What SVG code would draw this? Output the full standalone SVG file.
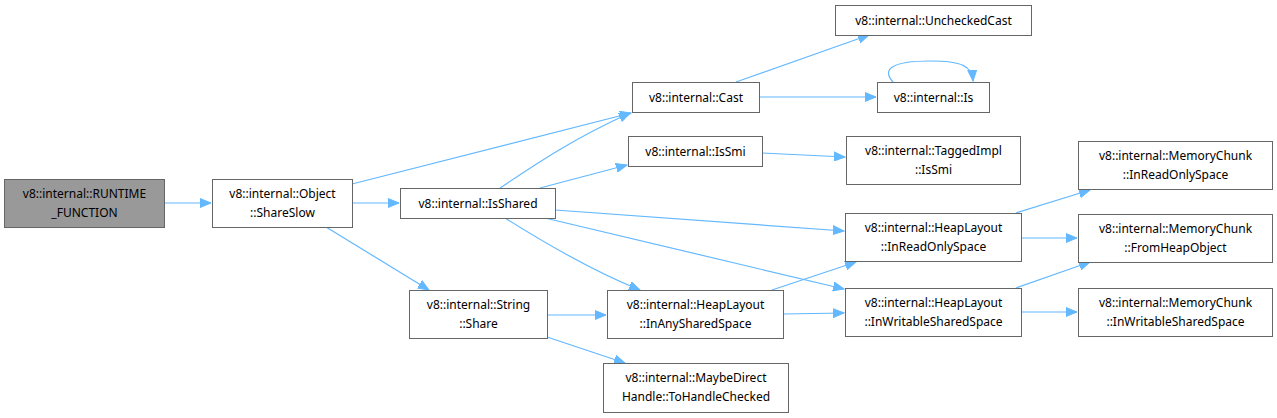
<svg xmlns="http://www.w3.org/2000/svg" width="1277" height="418" viewBox="0 0 1277 418">
<style>
.n rect{fill:#fff;stroke:#666;stroke-width:1}
.n.g rect{fill:#999}
text{font-family:"Noto Sans","Open Sans","DejaVu Sans",sans-serif;font-size:12px;fill:#000;text-anchor:middle}
.e path{fill:none;stroke:#63b8ff;stroke-width:1.2}
</style>
<defs>
<marker id="a" markerUnits="userSpaceOnUse" markerWidth="12" markerHeight="10" refX="11" refY="5" orient="auto">
<path d="M0,0.5 L11,5 L0,9.5 Z" fill="#63b8ff" stroke="#63b8ff"/>
</marker>
</defs>
<rect width="1277" height="418" fill="#fff"/>
<g class="e">
<path marker-end="url(#a)" d="M164,203 L211,203"/>
<path marker-end="url(#a)" d="M352,184 L631,113"/>
<path marker-end="url(#a)" d="M352,203 L399,203"/>
<path marker-end="url(#a)" d="M326,227 L429,290"/>
<path marker-end="url(#a)" d="M500,188 C530,168 570,140 630,113"/>
<path marker-end="url(#a)" d="M540,188 L627,165"/>
<path marker-end="url(#a)" d="M555,210 L844,231"/>
<path marker-end="url(#a)" d="M505,218 C540,240 590,270 640,290"/>
<path marker-end="url(#a)" d="M545,218 L844,289"/>
<path marker-end="url(#a)" d="M736,82 L869,35"/>
<path marker-end="url(#a)" d="M759,97 L876,97"/>
<path marker-end="url(#a)" d="M893,82 C882,70 890,61 930,61 C962,61 972,66 973,81"/>
<path marker-end="url(#a)" d="M762,153 L845,157"/>
<path marker-end="url(#a)" d="M1016,213 L1090,190"/>
<path marker-end="url(#a)" d="M1021,238 L1077,238"/>
<path marker-end="url(#a)" d="M1016,288 L1090,262"/>
<path marker-end="url(#a)" d="M1021,312 L1077,312"/>
<path marker-end="url(#a)" d="M547,315 L606,315"/>
<path marker-end="url(#a)" d="M547,337 L625,363"/>
<path marker-end="url(#a)" d="M772,290 L856,262"/>
<path marker-end="url(#a)" d="M783,314 L844,313"/>
</g>
<g id="n1" class="n g"><rect x="4.5" y="179.5" width="160" height="48"/><text x="84.5" y="197.5">v8::internal::RUNTIME</text><text x="84.5" y="216.5">_FUNCTION</text></g>
<g id="n2" class="n"><rect x="212.5" y="179.5" width="140" height="48"/><text x="282.5" y="197.5">v8::internal::Object</text><text x="282.5" y="216.5">::ShareSlow</text></g>
<g id="n3" class="n"><rect x="400.5" y="188.5" width="155" height="30"/><text x="478" y="207.5">v8::internal::IsShared</text></g>
<g id="n4" class="n"><rect x="632.5" y="82.5" width="127" height="30"/><text x="696" y="101.5">v8::internal::Cast</text></g>
<g id="n5" class="n"><rect x="628.5" y="136.5" width="134" height="30"/><text x="695.5" y="155.5">v8::internal::IsSmi</text></g>
<g id="n6" class="n"><rect x="835.5" y="5.5" width="196" height="30"/><text x="933.5" y="24.5">v8::internal::UncheckedCast</text></g>
<g id="n7" class="n"><rect x="877.5" y="82.5" width="112" height="30"/><text x="933.5" y="101.5">v8::internal::Is</text></g>
<g id="n8" class="n"><rect x="846.5" y="136.5" width="174" height="48"/><text x="933.5" y="154.5">v8::internal::TaggedImpl</text><text x="933.5" y="173.5">::IsSmi</text></g>
<g id="n9" class="n"><rect x="1078.5" y="141.5" width="194" height="48"/><text x="1175.5" y="159.5">v8::internal::MemoryChunk</text><text x="1175.5" y="178.5">::InReadOnlySpace</text></g>
<g id="n10" class="n"><rect x="845.5" y="213.5" width="176" height="48"/><text x="933.5" y="231.5">v8::internal::HeapLayout</text><text x="933.5" y="250.5">::InReadOnlySpace</text></g>
<g id="n11" class="n"><rect x="1078.5" y="214.5" width="194" height="48"/><text x="1175.5" y="232.5">v8::internal::MemoryChunk</text><text x="1175.5" y="251.5">::FromHeapObject</text></g>
<g id="n12" class="n"><rect x="845.5" y="288.5" width="176" height="48"/><text x="933.5" y="306.5">v8::internal::HeapLayout</text><text x="933.5" y="325.5">::InWritableSharedSpace</text></g>
<g id="n13" class="n"><rect x="1078.5" y="288.5" width="194" height="48"/><text x="1175.5" y="306.5">v8::internal::MemoryChunk</text><text x="1175.5" y="325.5">::InWritableSharedSpace</text></g>
<g id="n14" class="n"><rect x="409.5" y="290.5" width="138" height="48"/><text x="478.5" y="308.5">v8::internal::String</text><text x="478.5" y="327.5">::Share</text></g>
<g id="n15" class="n"><rect x="607.5" y="290.5" width="176" height="48"/><text x="695.5" y="308.5">v8::internal::HeapLayout</text><text x="695.5" y="327.5">::InAnySharedSpace</text></g>
<g id="n16" class="n"><rect x="603.5" y="363.5" width="185" height="49"/><text x="696" y="381.5">v8::internal::MaybeDirect</text><text x="696" y="400.5">Handle::ToHandleChecked</text></g>
</svg>
